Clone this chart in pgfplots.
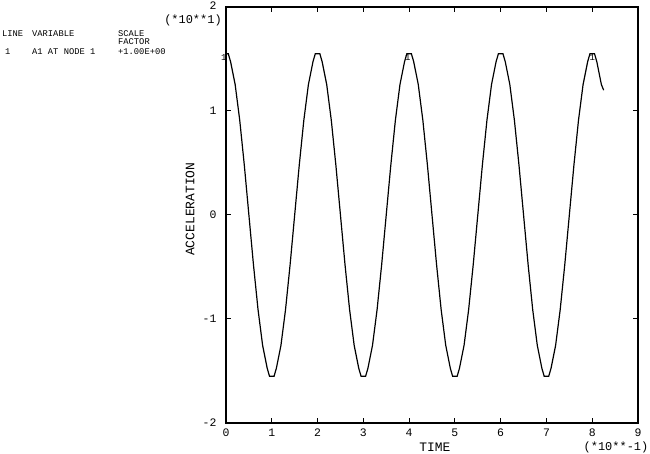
\documentclass[border=0pt]{standalone}
\usepackage{fontspec}
\setmainfont{Liberation Mono}
\setmonofont{Liberation Mono}
\usepackage{pgfplots}
\pgfplotsset{compat=1.18}
\begin{document}
\begin{tikzpicture}[x=1bp,y=1bp]
\useasboundingbox (0,0) rectangle (650,454);
\begin{axis}[
  at={(226bp,31bp)}, anchor=south west,
  scale only axis, width=412bp, height=416bp,
  xmin=0, xmax=9, ymin=-2, ymax=2,
  xtick={0,1,...,9}, ytick={-2,-1,0,1,2},
  xticklabels={0,1,2,3,4,5,6,7,8,9},
  yticklabels={-2,-1,0,1,\raisebox{2bp}{2}},
  tick align=inside, major tick length=5bp,
  tick pos=both,
  axis line style={line width=1.2pt},
  every tick/.style={line width=1pt,black},
  tick label style={font=\fontsize{11.5}{12}\selectfont},
  xticklabel style={yshift=-2bp},
  yticklabel style={xshift=-6bp},
  xlabel={TIME}, ylabel={ACCELERATION},
  label style={font=\fontsize{13}{14}\selectfont},
  xlabel style={at={(axis description cs:0.507,0)}, anchor=center, yshift=-24bp},
  ylabel style={at={(axis description cs:-0.087,0.514)}, anchor=center},
  clip=false,
]
\addplot[black, line width=1.2pt] coordinates {
(0,1.55) (0.05,1.55) (0.1,1.474) (0.2,1.254) (0.3,0.911) (0.4,0.479) (0.5,0) (0.6,-0.479) (0.7,-0.911) (0.8,-1.254) (0.9,-1.474) (0.95,-1.55)
(1.05,-1.55) (1.1,-1.474) (1.2,-1.254) (1.3,-0.911) (1.4,-0.479) (1.5,0) (1.6,0.479) (1.7,0.911) (1.8,1.254) (1.9,1.474) (1.95,1.55)
(2.05,1.55) (2.1,1.474) (2.2,1.254) (2.3,0.911) (2.4,0.479) (2.5,0) (2.6,-0.479) (2.7,-0.911) (2.8,-1.254) (2.9,-1.474) (2.95,-1.55)
(3.05,-1.55) (3.1,-1.474) (3.2,-1.254) (3.3,-0.911) (3.4,-0.479) (3.5,0) (3.6,0.479) (3.7,0.911) (3.8,1.254) (3.9,1.474) (3.95,1.55)
(4.05,1.55) (4.1,1.474) (4.2,1.254) (4.3,0.911) (4.4,0.479) (4.5,0) (4.6,-0.479) (4.7,-0.911) (4.8,-1.254) (4.9,-1.474) (4.95,-1.55)
(5.05,-1.55) (5.1,-1.474) (5.2,-1.254) (5.3,-0.911) (5.4,-0.479) (5.5,0) (5.6,0.479) (5.7,0.911) (5.8,1.254) (5.9,1.474) (5.95,1.55)
(6.05,1.55) (6.1,1.474) (6.2,1.254) (6.3,0.911) (6.4,0.479) (6.5,0) (6.6,-0.479) (6.7,-0.911) (6.8,-1.254) (6.9,-1.474) (6.95,-1.55)
(7.05,-1.55) (7.1,-1.474) (7.2,-1.254) (7.3,-0.911) (7.4,-0.479) (7.5,0) (7.6,0.479) (7.7,0.911) (7.8,1.254) (7.9,1.474) (7.95,1.55)
(8.05,1.55) (8.1,1.474) (8.2,1.254) (8.25,1.2)
};
\node[font=\fontsize{9}{10}\selectfont, inner sep=0pt] at (axis cs:-0.05,1.51) {1};
\node[font=\fontsize{9}{10}\selectfont, inner sep=0pt] at (axis cs:3.97,1.51) {1};
\node[font=\fontsize{9}{10}\selectfont, inner sep=0pt] at (axis cs:8.0,1.51) {1};
\end{axis}
\node[font=\fontsize{12}{13}\selectfont, inner sep=0pt] at (193,434) {(*10**1)};
\node[font=\fontsize{12}{13}\selectfont, inner sep=0pt] at (616,7) {(*10**-1)};
\begin{scope}[every node/.style={font=\fontsize{8.8}{9}\selectfont, inner sep=0pt, anchor=base west}]
\node at (2,417) {LINE};
\node at (32,417) {VARIABLE};
\node at (118,417) {SCALE};
\node at (118,409) {FACTOR};
\node at (5,399) {1};
\node at (32,399) {A1 AT NODE 1};
\node at (118,399) {+1.00E+00};
\end{scope}
\end{tikzpicture}
\end{document}
